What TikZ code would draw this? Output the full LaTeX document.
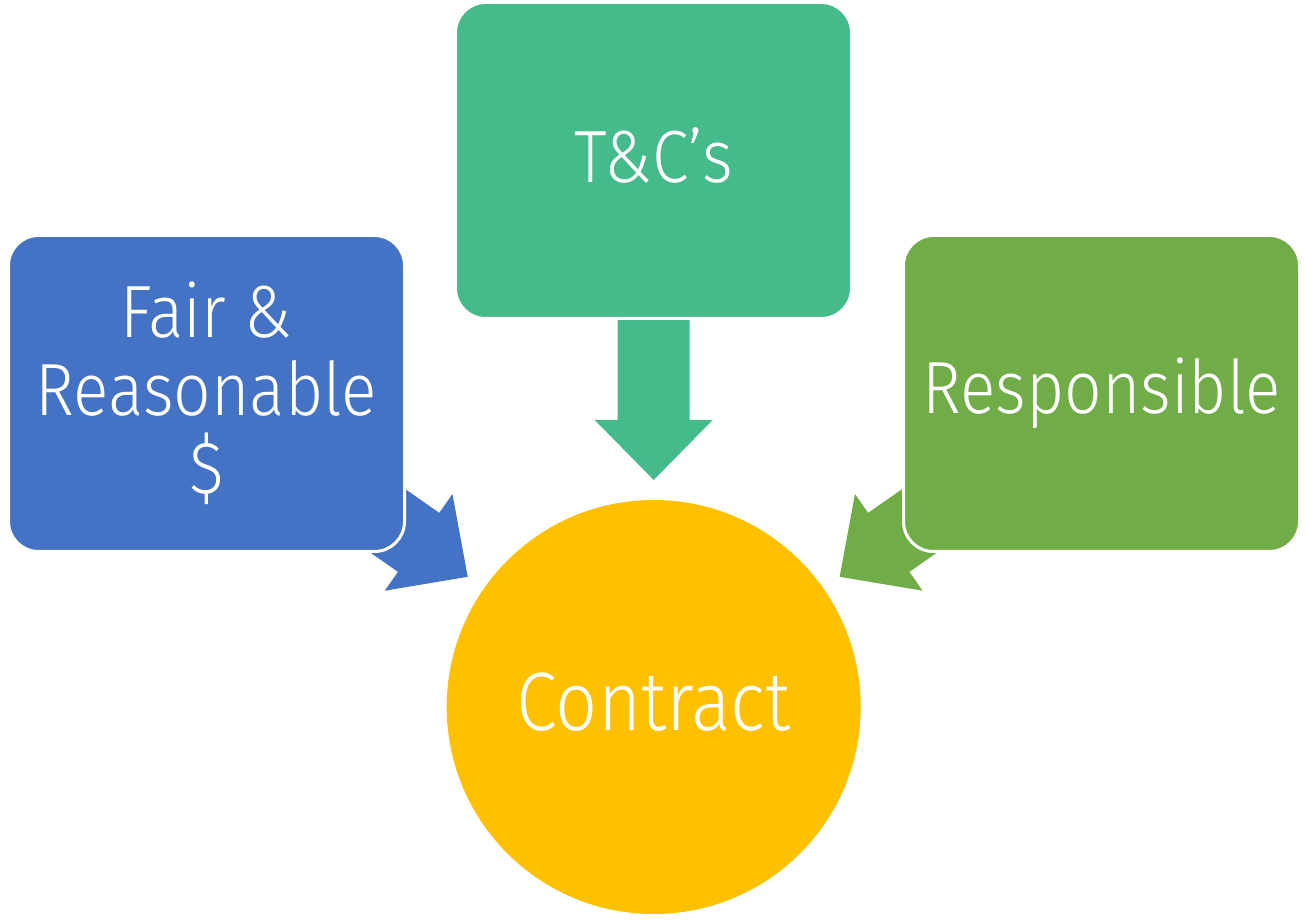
\documentclass[tikz,border=0pt]{standalone}
\definecolor{BoxBlue}{RGB}{68, 114, 196}
\definecolor{BoxTeal}{RGB}{69, 187, 139}
\definecolor{BoxGreen}{RGB}{112, 173, 71}
\definecolor{CircleGold}{RGB}{255, 192, 0}
\usepackage{fontspec}
\setmainfont{Fira Sans}[UprightFont={* Light}, FakeStretch=0.89]
\usetikzlibrary{calc}

\tikzset{
    blockarrow/.pic={
        \fill[pic actions] (0,0) -- (-60,59) -- (-60,36) -- (-160,36)
            -- (-160,-36) -- (-60,-36) -- (-60,-59) -- cycle;
    }
}

\begin{document}
\begin{tikzpicture}[
        x=1pt, y=1pt,
        box/.style={draw=white, line width=3pt, rounded corners=30pt,
                     minimum width=396pt, minimum height=316pt,
                     text=white, align=center, inner sep=0pt,
                     font=\fontsize{74}{78}\selectfont},
        hub/.style={circle, fill=CircleGold, minimum size=414pt,
                     text=white, inner sep=0pt, text depth=10pt,
                     font=\fontsize{83}{90}\selectfont}
    ]
        \useasboundingbox (0,0) rectangle (1307,922);

        \node[hub] (contract) at (653.7,215) {Contract};

        % block arrows, drawn before the boxes so these cover the tails
        \pic[fill=BoxTeal, rotate=-90] at ($(contract.center)+(90:227)$) {blockarrow};
        \pic[fill=BoxBlue, rotate=-35] at ($(contract.center)+(145:227)$) {blockarrow};
        \pic[fill=BoxGreen, rotate=-145] at ($(contract.center)+(35:227)$) {blockarrow};

        \node[box, fill=BoxBlue] (fair) at (206.5,528.5) {Fair \&\\Reasonable\\\$};
        \node[box, fill=BoxTeal, text depth=10pt] (terms) at (653.5,761.5) {T\&C’s};
        \node[box, fill=BoxGreen] (resp) at (1101.5,528.5) {Responsible};
    \end{tikzpicture}
\end{document}
